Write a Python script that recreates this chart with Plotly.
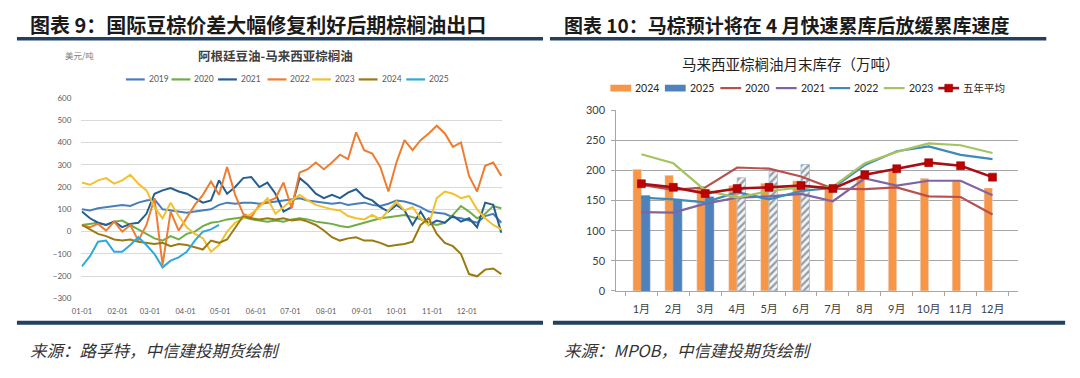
import plotly.graph_objects as go
import pandas as pd

# ---------------- Left chart data (weekly samples, USD/t) ----------------
week_dates = pd.date_range("2023-01-01", periods=53, freq="7D")

s2019 = [100, 95, 105, 110, 115, 120, 115, 130, 140, 145, 100, 95, 90, 85, 90, 95, 100, 120, 130, 125,
         130, 130, 125, 130, 135, 140, 145, 150, 140, 135, 130, 125, 130, 120, 125, 130, 120, 115, 125, 140,
         135, 125, 110, 90, 85, 80, 65, 60, 50, 40, 70, 80, 40]
s2020 = [30, 35, 40, 30, 45, 50, 30, 10, -10, -30, -40, -20, -35, -10, 0, 25, 40, 45, 55, 60,
         65, 55, 50, 45, 50, 45, 55, 60, 55, 45, 40, 35, 25, 20, 30, 40, 50, 60, 65, 70,
         75, 65, 55, 40, 30, 40, 75, 115, 90, 60, 80, 115, 105]
s2021 = [90, 60, 40, 30, 45, 20, 35, 40, 80, 170, 185, 195, 180, 170, 150, 130, 140, 230, 170, 200,
         240, 245, 200, 220, 170, 90, 110, 240, 210, 170, 150, 165, 150, 175, 190, 155, 140, 110, 90, 120,
         95, 30, 90, 30, 50, 40, 70, 45, 60, 20, 130, 120, -5]
s2022 = [30, 20, 35, 5, 45, 0, 30, -40, 30, 150, -150, 90, 5, 60, 120, 165, 225, 165, 290, 165,
         80, 65, 120, 135, 150, 220, 105, 265, 280, 310, 280, 310, 345, 325, 445, 365, 350, 290, 180, 310,
         410, 365, 410, 440, 475, 440, 380, 400, 250, 180, 295, 310, 250]
s2023 = [220, 210, 230, 240, 215, 230, 255, 215, 185, 110, 60, 130, 70, 20, -10, -30, -90, -60, 0, 40,
         60, 80, 110, 150, 80, 110, 140, 165, 140, 120, 110, 100, 95, 70, 60, 55, 75, 55, 95, 135,
         95, 110, 60, 30, 150, 180, 170, 150, 160, 100, 60, 30, 10]
s2024 = [30, 10, -10, -20, -35, -40, -35, -45, -50, -55, -50, -65, -55, -60, -70, -80, -40, -50, -35, 20,
         70, 60, 55, 60, 55, 60, 50, 55, 45, 30, 5, -25, -40, -30, -25, -40, -40, -50, -65, -60,
         -55, -45, 30, 60, -10, -50, -65, -100, -190, -200, -170, -165, -190]
s2025 = [-155, -110, -45, -40, -90, -90, -60, -25, -60, -100, -160, -130, -115, -90, -40, 0, 10, 30]

left_names = ["2019", "2020", "2021", "2022", "2023", "2024", "2025"]
left_values = [s2019, s2020, s2021, s2022, s2023, s2024, s2025]
left_colors = ["#4a7ebb", "#70ad47", "#255e91", "#ed7d31", "#f2c12e", "#9c7a12", "#2fa9dc"]

# ---------------- Right chart data (10k tonnes) ----------------
months = ["1月", "2月", "3月", "4月", "5月", "6月", "7月", "8月", "9月", "10月", "11月", "12月"]
stock_2024 = [202, 192, 172, 175, 179, 183, 173, 188, 201, 187, 184, 171]
stock_2025 = [158, 152, 156, 188, 199, 210]
stock_2025_forecast = [False, False, False, True, True, True]
stock_2020 = [176, 168, 172, 205, 203, 190, 170, 169, 172, 157, 156, 127]
stock_2021 = [131, 130, 145, 155, 157, 161, 149, 187, 175, 183, 183, 159]
stock_2022 = [155, 152, 147, 164, 152, 166, 171, 209, 232, 240, 226, 219]
stock_2023 = [227, 212, 167, 155, 166, 172, 173, 212, 231, 245, 242, 229]
stock_5yr = [178, 172, 162, 170, 172, 175, 170, 193, 203, 213, 208, 189]

C2024, C2025 = "#f79646", "#4f81bd"
right_lines = [("2020", stock_2020, "#b9504d"), ("2021", stock_2021, "#8064a2"),
               ("2022", stock_2022, "#3f8ab8"), ("2023", stock_2023, "#a5c461")]
C5Y_LINE, C5Y_MARK = "#a50f15", "#c00000"

fig = go.Figure()

for name, vals, color in zip(left_names, left_values, left_colors):
    fig.add_trace(go.Scatter(
        x=week_dates[:len(vals)], y=vals, name=name, mode="lines",
        line=dict(color=color, width=2), xaxis="x", yaxis="y", showlegend=False))

fig.add_trace(go.Bar(
    x=months, y=stock_2024, name="2024", marker=dict(color=C2024),
    xaxis="x2", yaxis="y2", showlegend=False))
fig.add_trace(go.Bar(
    x=months[:len(stock_2025)], y=stock_2025, name="2025",
    marker=dict(
        color=["#eef4f9" if f else C2025 for f in stock_2025_forecast],
        pattern=dict(shape=["/" if f else "" for f in stock_2025_forecast],
                     fgcolor="#3a6f98", size=5, solidity=0.45, fillmode="overlay"),
        line=dict(color=["#9dbbd6" if f else C2025 for f in stock_2025_forecast], width=0.8)),
    xaxis="x2", yaxis="y2", showlegend=False))

for name, vals, color in right_lines:
    fig.add_trace(go.Scatter(x=months, y=vals, name=name, mode="lines",
                             line=dict(color=color, width=2.2),
                             xaxis="x2", yaxis="y2", showlegend=False))
fig.add_trace(go.Scatter(x=months, y=stock_5yr, name="五年平均", mode="lines+markers",
                         line=dict(color=C5Y_LINE, width=2.6),
                         marker=dict(symbol="square", size=8, color=C5Y_MARK,
                                     line=dict(color="#8b0000", width=0.5)),
                         xaxis="x2", yaxis="y2", showlegend=False))

W, H = 1080, 378
def px(x):
    return x / W
def py(y):
    return 1 - y / H

axis_font = "Lato, Noto Sans CJK SC, sans-serif"
cjk = "Noto Sans CJK SC, sans-serif"

fig.update_layout(
    width=W, height=H, margin=dict(l=0, r=0, t=0, b=0),
    paper_bgcolor="white", plot_bgcolor="rgba(0,0,0,0)",
    barmode="group", bargap=0.47, bargroupgap=0,
    showlegend=False, hovermode=False,
    xaxis=dict(domain=[px(72), px(497)], anchor="y", type="date",
               range=["2022-12-31 12:00", "2023-12-31 23:00"],
               tickformat="%m-%d", dtick="M1", tick0="2023-01-01",
               showgrid=False, showline=False, zeroline=False, ticks="", tickangle=0,
               ticklabelstandoff=7,
               tickfont=dict(family=axis_font, size=7.5, color="#595959")),
    yaxis=dict(domain=[py(302), py(94)], anchor="x", range=[-300, 600], dtick=100,
               showgrid=True, gridcolor="#d9d9d9", gridwidth=1, zeroline=False,
               showline=False, ticks="", ticklabelstandoff=9,
               tickfont=dict(family=axis_font, size=8, color="#595959")),
    xaxis2=dict(domain=[px(612), px(1017)], anchor="y2", type="category",
                showline=True, linecolor="#a6a6a6", linewidth=1, tickangle=0,
                ticks="outside", tickson="boundaries", ticklen=4, tickcolor="#a6a6a6",
                ticklabelstandoff=8,
                showgrid=False, tickfont=dict(family=axis_font, size=11, color="#404040")),
    yaxis2=dict(domain=[py(294), py(107)], anchor="x2", range=[0, 300], dtick=50,
                showline=True, linecolor="#a6a6a6", linewidth=1, zeroline=False,
                showgrid=True, gridcolor="#a6a6a6", gridwidth=1,
                ticks="outside", ticklen=4, tickcolor="#a6a6a6", ticklabelstandoff=4,
                tickfont=dict(family=axis_font, size=11, color="#404040")),
)

annotations = [
    dict(text="图表 9：国际豆棕价差大幅修复利好后期棕榈油出口", x=px(18), y=py(18),
         xanchor="left", yanchor="middle", font=dict(family=cjk, size=20, color="#1a1a1a", weight="bold")),
    dict(text="图表 10：马棕预计将在 4 月快速累库后放缓累库速度", x=px(557), y=py(18),
         xanchor="left", yanchor="middle", font=dict(family=cjk, size=19, color="#1a1a1a", weight="bold")),
    dict(text="阿根廷豆油-马来西亚棕榈油", x=px(268), y=py(50), xanchor="center", yanchor="middle",
         font=dict(family=cjk, size=12.5, color="#404040", weight="bold")),
    dict(text="美元/吨", x=px(70), y=py(50), xanchor="center", yanchor="middle",
         font=dict(family=cjk, size=8.5, color="#7f7f7f")),
    dict(text="马来西亚棕榈油月末库存（万吨）", x=px(788), y=py(59), xanchor="center", yanchor="middle",
         font=dict(family=cjk, size=14.5, color="#222222")),
    dict(text="来源：路孚特，中信建投期货绘制", x=px(18), y=py(355), xanchor="left", yanchor="middle",
         font=dict(family=cjk, size=16.5, color="#333333", style="italic")),
    dict(text="来源：MPOB，中信建投期货绘制", x=px(557), y=py(355), xanchor="left", yanchor="middle",
         font=dict(family=cjk, size=16.5, color="#333333", style="italic")),
]

shapes = []
line_color = "#24405f"
for x0, x1, yy, w in [(7, 538, 33, 3.5), (545, 1046, 33, 3.5), (7, 538, 327, 4), (548, 1065, 327, 4)]:
    shapes.append(dict(type="line", xref="paper", yref="paper", x0=px(x0), x1=px(x1),
                       y0=py(yy), y1=py(yy), line=dict(color=line_color, width=w), layer="above"))

# ---- legend keys (layout decoration) ----
left_key_x = [117, 163, 210, 260, 305, 352, 400]
left_key_y = 75
for name, color, kx in zip(left_names, left_colors, left_key_x):
    shapes.append(dict(type="line", xref="paper", yref="paper", x0=px(kx), x1=px(kx + 19),
                       y0=py(left_key_y), y1=py(left_key_y), line=dict(color=color, width=2.2)))
    annotations.append(dict(text=name, x=px(kx + 21), y=py(left_key_y), xanchor="left",
                            yanchor="middle", font=dict(family=axis_font, size=8.5, color="#595959")))

right_key_y = 84
right_keys = [("2024", C2024, "bar", 606), ("2025", C2025, "bar", 661)]
right_keys += [(n, c, "line", kx) for (n, _, c), kx in zip(right_lines, [717, 773, 827, 882])]
right_keys += [("五年平均", C5Y_LINE, "marker", 937)]
for name, color, kind, kx in right_keys:
    if kind == "bar":
        shapes.append(dict(type="rect", xref="paper", yref="paper", x0=px(kx), x1=px(kx + 21),
                           y0=py(right_key_y + 3.5), y1=py(right_key_y - 3.5),
                           fillcolor=color, line=dict(width=0)))
    else:
        shapes.append(dict(type="line", xref="paper", yref="paper", x0=px(kx), x1=px(kx + 21),
                           y0=py(right_key_y), y1=py(right_key_y),
                           line=dict(color=color, width=2.6 if kind == "marker" else 2.2)))
        if kind == "marker":
            shapes.append(dict(type="rect", xref="paper", yref="paper", x0=px(kx + 6.5), x1=px(kx + 14.5),
                               y0=py(right_key_y + 4), y1=py(right_key_y - 4),
                               fillcolor=C5Y_MARK, line=dict(color="#8b0000", width=0.5)))
    annotations.append(dict(text=name, x=px(kx + 23), y=py(right_key_y), xanchor="left",
                            yanchor="middle", font=dict(family=axis_font, size=10.5, color="#262626")))

for a in annotations:
    a.update(xref="paper", yref="paper", showarrow=False)
fig.update_layout(annotations=annotations, shapes=shapes)

fig.write_html("out.html", config={"displayModeBar": False},
               post_script="document.body.style.margin='0';document.body.style.overflow='hidden';")
